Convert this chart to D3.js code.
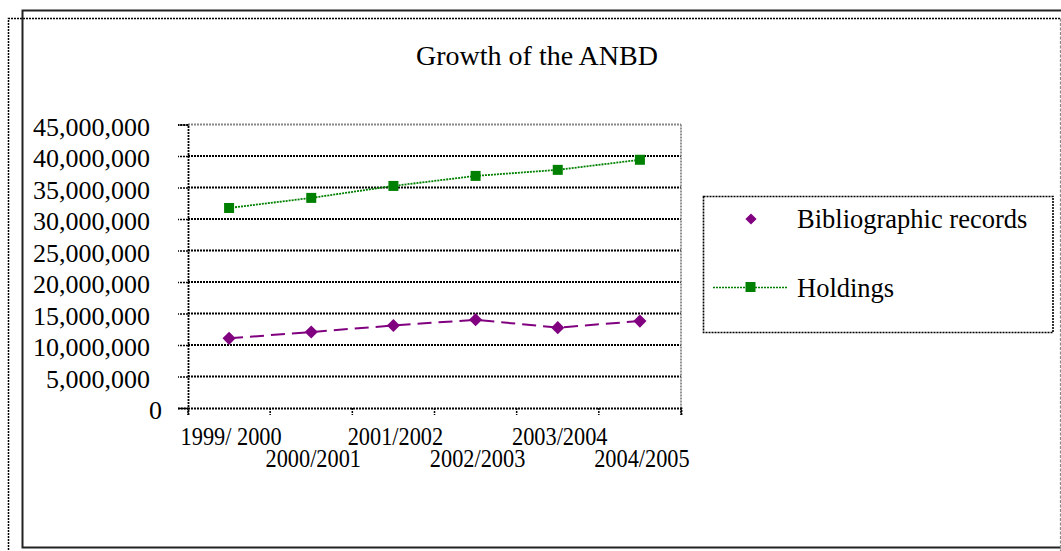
<!DOCTYPE html>
<html><head><meta charset="utf-8">
<script src="https://cdn.jsdelivr.net/npm/d3@7/dist/d3.min.js"></script>
<style>body{margin:0;background:#fff}svg{display:block}text{font-family:"Liberation Serif","Times New Roman",serif;fill:#000}</style>
</head><body>
<svg id="c" width="1061" height="551"></svg>
<script>
const categories = ["1999/ 2000","2000/2001","2001/2002","2002/2003","2003/2004","2004/2005"];
const bibliographic = [11060000,12060000,13100000,14000000,12750000,13800000];
const holdings = [31750000,33350000,35250000,36840000,37800000,39400000];
const yTicks = [0,5000000,10000000,15000000,20000000,25000000,30000000,35000000,40000000,45000000];
const title = "Growth of the ANBD";
const seriesNames = ["Bibliographic records","Holdings"];

const svg = d3.select("#c");
// outer frames
svg.append("path").attr("d","M8.5,1000 V18.5 H1060.5").attr("fill","none")
  .attr("stroke","#000").attr("stroke-width",1.5).attr("stroke-dasharray","2,1");
svg.append("path").attr("d","M1061,10.5 H22.5 V547.5 H1061").attr("fill","none")
  .attr("stroke","#222").attr("stroke-width",2);
svg.append("path").attr("d","M1060.5,18.5 V551").attr("stroke","#888").attr("stroke-width",1.2).attr("stroke-dasharray","3,1.5");

const L=188,T=124.5,R=681,B=408;
const x = d3.scaleBand().domain(categories).range([L,R]);
const y = d3.scaleLinear().domain([0,45000000]).range([B,T]);

svg.append("text").attr("x",537).attr("y",65).attr("text-anchor","middle")
  .style("font-size","28px").text(title);

// gridlines
svg.append("g").selectAll("line").data(yTicks.filter(d=>d>0)).join("line")
  .attr("x1",L).attr("x2",R).attr("y1",d=>y(d)).attr("y2",d=>y(d))
  .attr("stroke",d=>d===45000000?"#888":"#000").attr("stroke-width",1.8).attr("stroke-dasharray","2,1");
// right border
svg.append("line").attr("x1",R).attr("x2",R).attr("y1",T).attr("y2",B)
  .attr("stroke","#888").attr("stroke-width",1.8).attr("stroke-dasharray","2,1");

// y axis
const yAxis = d3.axisLeft(y).tickValues(yTicks).tickSize(10).tickPadding(0).tickFormat(d3.format(","));
const gy = svg.append("g").attr("transform",`translate(${L},0)`).call(yAxis);
gy.select(".domain").attr("stroke","#000").attr("stroke-width",1.8).attr("stroke-dasharray","2,1");
gy.selectAll(".tick line").attr("stroke","#000").attr("stroke-width",1.5).attr("stroke-dasharray","2,1");
gy.selectAll(".tick text").style("font-size","26px").attr("x",-38).attr("dy","0.42em")
  .style("font-family",'"Liberation Serif",serif');
gy.selectAll(".tick text").filter(d=>d===0).attr("x",-26);

// x axis
const xAxis = d3.axisBottom(x).tickSize(7).tickFormat("");
const gx = svg.append("g").attr("transform",`translate(0,${B})`).call(xAxis);
gx.select(".domain").attr("stroke","#000").attr("stroke-width",1.8).attr("stroke-dasharray","2,1");
gx.selectAll(".tick").remove();
const edges = categories.map(c=>x(c)).concat([R]);
gx.selectAll("line.tk").data(edges).join("line").attr("class","tk")
  .attr("x1",d=>d).attr("x2",d=>d).attr("y1",0).attr("y2",7)
  .attr("stroke","#000").attr("stroke-width",1.5).attr("stroke-dasharray","2,1");
gx.selectAll("text.lbl").data(categories).join("text").attr("class","lbl")
  .attr("transform",(d,i)=>`translate(${x(d)+x.bandwidth()/2+2},${i%2===0?37:59}) scale(0.95,1.1)`)
  .attr("text-anchor","middle").style("font-size","23.5px").text(d=>d);

const cx = d=>x(d)+x.bandwidth()/2;
const line = d3.line().x(d=>cx(d[0])).y(d=>y(d[1]));

// holdings
svg.append("path").datum(categories.map((c,i)=>[c,holdings[i]])).attr("d",line)
  .attr("fill","none").attr("stroke","#008000").attr("stroke-width",1.8).attr("stroke-dasharray","2,1");
svg.append("g").selectAll("rect").data(categories.map((c,i)=>[c,holdings[i]])).join("rect")
  .attr("x",d=>cx(d[0])-5).attr("y",d=>y(d[1])-5).attr("width",10).attr("height",10).attr("fill","#008000");

// bibliographic
svg.append("path").datum(categories.map((c,i)=>[c,bibliographic[i]])).attr("d",line)
  .attr("fill","none").attr("stroke","#800080").attr("stroke-width",2).attr("stroke-dasharray","14,7");
const diamond = d3.symbol().type(d3.symbolDiamond2).size(110);
svg.append("g").selectAll("path").data(categories.map((c,i)=>[c,bibliographic[i]])).join("path")
  .attr("d",diamond).attr("transform",d=>`translate(${cx(d[0])},${y(d[1])})`).attr("fill","#800080");

// legend
svg.append("rect").attr("x",703.5).attr("y",196.5).attr("width",349.5).attr("height",136)
  .attr("fill","none").attr("stroke","#000").attr("stroke-width",1.6).attr("stroke-dasharray","2,1");
const lg = svg.append("g");
lg.append("path").attr("d",d3.symbol().type(d3.symbolDiamond2).size(80)).attr("transform","translate(751,219)").attr("fill","#800080");
lg.append("text").attr("x",797).attr("y",228).style("font-size","26.5px").text(seriesNames[0]);
lg.append("line").attr("x1",713).attr("x2",788).attr("y1",287.5).attr("y2",287.5)
  .attr("stroke","#008000").attr("stroke-width",1.5).attr("stroke-dasharray","2,1");
lg.append("rect").attr("x",745.5).attr("y",282).attr("width",10).attr("height",10).attr("fill","#008000");
lg.append("text").attr("x",797).attr("y",297).style("font-size","26.5px").text(seriesNames[1]);
</script>
</body></html>
